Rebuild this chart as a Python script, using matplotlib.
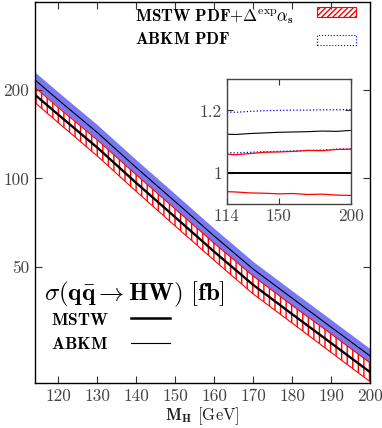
import numpy as np
import matplotlib
matplotlib.use("Agg")
import matplotlib.pyplot as plt
from matplotlib.patches import Patch
from matplotlib.lines import Line2D

plt.rcParams['font.family'] = 'cmr10'
plt.rcParams['mathtext.fontset'] = 'cm'
plt.rcParams['axes.formatter.use_mathtext'] = True
plt.rcParams['hatch.linewidth'] = 1.0

# Higgs masses (GeV)
mh = [114, 120, 130, 140, 150, 160, 170, 180, 190, 200]
# MSTW central cross section (fb)
sig_mstw = [193, 165, 127.4, 96.5, 73.7, 56.2, 43.3, 34.4, 27.4, 21.8]
# ratios to MSTW central
mstw_up = [1.060, 1.058, 1.062, 1.066, 1.067, 1.069, 1.072, 1.071, 1.075, 1.076]
mstw_lo = [0.940, 0.939, 0.936, 0.935, 0.933, 0.934, 0.931, 0.932, 0.929, 0.928]
abkm_c = [1.124, 1.123, 1.126, 1.128, 1.130, 1.131, 1.132, 1.134, 1.133, 1.136]
abkm_up = [1.195, 1.194, 1.197, 1.199, 1.200, 1.201, 1.201, 1.202, 1.202, 1.203]
abkm_lo = [1.065, 1.064, 1.066, 1.068, 1.069, 1.070, 1.072, 1.073, 1.076, 1.077]

top_labels = [r'$\mathbf{MSTW\ PDF{+}\Delta}^{\rm exp}\alpha_{\mathbf{s}}$',
              r'$\mathbf{ABKM\ PDF}$']

x = np.array(mh)
s = np.array(sig_mstw)
blue = '#7878f0'
tick_col = '#444444'

fig = plt.figure(figsize=(3.82, 4.28), dpi=100)
ax = fig.add_axes([0.0916, 0.105, 0.877, 0.890])

ax.fill_between(x, s*np.array(abkm_lo), s*np.array(abkm_up), color=blue, lw=0, zorder=1)
ax.fill_between(x, s*np.array(mstw_lo), s*np.array(mstw_up), facecolor='none',
                edgecolor='red', hatch='|||', lw=0.8, zorder=2)
ax.plot(x, s*np.array(abkm_c), color='black', lw=0.8, zorder=3)
ax.plot(x, s, color='black', lw=1.7, zorder=3)

ax.set_yscale('log')
ax.set_xlim(114, 200)
ax.set_ylim(20, 400)
ax.set_xticks(range(120, 201, 10))
ax.set_xticklabels([str(v) for v in range(120, 201, 10)])
ax.set_yticks([50, 100, 200])
ax.set_yticklabels(['50', '100', '200'])
ax.yaxis.set_minor_locator(matplotlib.ticker.NullLocator())
ax.tick_params(direction='in', top=True, right=True, length=5, labelsize=12.5,
               pad=4, colors='#333333', labelcolor=tick_col)
for sp in ax.spines.values():
    sp.set_linewidth(1.0)
ax.set_xlabel(r'$\mathbf{M_H}$ [GeV]', fontsize=12, labelpad=1, color='#222222')

# top legend: keys on the right, left-aligned labels
h1 = Patch(facecolor='none', edgecolor='red', hatch='//////', lw=0.8)
h2 = Patch(facecolor='none', edgecolor='blue', linestyle=':', lw=0.8)
leg1 = ax.legend([h1, h2], ['', ''], loc='upper right', bbox_to_anchor=(0.957, 0.99),
                 borderaxespad=0, borderpad=0, frameon=False, fontsize=12.2,
                 handlelength=2.25, handleheight=0.55, handletextpad=0, labelspacing=0.72)
ax.add_artist(leg1)
ax.text(0.2985, 0.962, top_labels[0], transform=ax.transAxes, fontsize=12.2,
        va='center', ha='left')
ax.text(0.2985, 0.904, top_labels[1], transform=ax.transAxes, fontsize=12.2,
        va='center', ha='left')

# bottom-left legend
ax.text(0.028, 0.232, r'$\sigma(\mathbf{q\bar{q}}\rightarrow\mathbf{HW})\ [\mathbf{fb}]$',
        transform=ax.transAxes, fontsize=18, va='center', ha='left')
l1 = Line2D([], [], color='black', lw=1.8)
l2 = Line2D([], [], color='black', lw=0.8)
ax.legend([l1, l2], [r'$\mathbf{MSTW}$', r'$\mathbf{ABKM}$'], loc='lower left',
          bbox_to_anchor=(0.0, 0.04), frameon=False, markerfirst=False,
          fontsize=12.5, handlelength=2.25, handletextpad=1.3, labelspacing=0.5)

# inset with ratios
axi = fig.add_axes([0.594, 0.523, 0.325, 0.292])
axi.plot(x, abkm_up, color='blue', ls=':', lw=0.9)
axi.plot(x, abkm_lo, color='blue', ls=':', lw=0.9)
axi.plot(x, mstw_up, color='red', lw=0.9)
axi.plot(x, mstw_lo, color='red', lw=0.9)
axi.plot(x, abkm_c, color='black', lw=0.8)
axi.plot(x, np.ones_like(s), color='black', lw=1.4)
axi.set_xlim(114, 200)
axi.set_ylim(0.9, 1.3)
axi.set_xticks([114, 150, 200])
axi.set_xticklabels(['114', '150', '200'])
axi.set_yticks([1, 1.2])
axi.set_yticklabels(['1', '1.2'])
axi.tick_params(direction='in', top=True, right=True, length=4, labelsize=12.5,
                colors='#333333', labelcolor=tick_col)
for sp in axi.spines.values():
    sp.set_linewidth(1.0)
    sp.set_color('#444444')

fig.savefig('out.png', dpi=100)
